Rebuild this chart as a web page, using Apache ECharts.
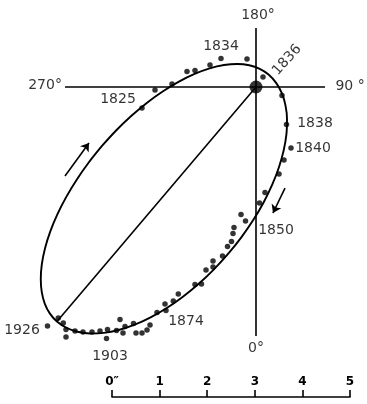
<!DOCTYPE html>
<html><head><meta charset="utf-8">
<script src="https://cdn.jsdelivr.net/npm/echarts@6/dist/echarts.min.js"></script>
<style>html,body{margin:0;padding:0;background:#fff}#c{width:367px;height:404px}</style>
</head><body><div id="c"></div>
<script>
// Apparent orbit of a visual binary; positions of companion relative to primary, in arcseconds (x right, y up)
const orbitTrace = [
  [-3.229,-1.236],[-2.928,-0.907],[-2.611,-0.603],[-2.283,-0.328],[-1.949,-0.088],[-1.615,0.114],
  [-1.287,0.275],[-0.971,0.391],[-0.671,0.460],[-0.393,0.482],[-0.142,0.456],[0.078,0.382],
  [0.263,0.262],[0.422,0.086],[0.542,-0.130],[0.618,-0.384],[0.650,-0.672],[0.638,-0.987],
  [0.581,-1.326],[0.481,-1.682],[0.340,-2.048],[0.159,-2.420],[-0.058,-2.790],[-0.308,-3.152],
  [-0.586,-3.500],[-0.887,-3.828],[-1.206,-4.130],[-1.539,-4.401],[-1.878,-4.637],[-2.219,-4.834],
  [-2.555,-4.987],[-2.881,-5.095],[-3.191,-5.155],[-3.480,-5.168],[-3.743,-5.131],[-3.975,-5.047],
  [-4.173,-4.916],[-4.320,-4.751],[-4.427,-4.545],[-4.491,-4.301],[-4.512,-4.023],[-4.490,-3.716],
  [-4.424,-3.386],[-4.316,-3.037],[-4.167,-2.676],[-3.980,-2.309],[-3.759,-1.943],[-3.507,-1.583],
  [-3.229,-1.236]
];
const observations = [
  [-2.390,-0.440],[-2.117,-0.063],[-1.761,0.063],[-1.447,0.325],[-1.279,0.346],[-0.964,0.461],
  [-0.734,0.597],[-0.189,0.587],[0.147,0.210],[0.545,-0.178],[0.639,-0.786],[0.734,-1.279],
  [0.587,-1.530],[0.482,-1.824],[0.189,-2.212],[0.073,-2.432],[-0.314,-2.673],[-0.220,-2.809],
  [-0.461,-2.945],[-0.482,-3.071],[-0.514,-3.239],[-0.597,-3.344],[-0.702,-3.543],[-0.901,-3.648],
  [-0.901,-3.774],[-1.048,-3.836],[-1.143,-4.130],[-1.279,-4.140],[-1.629,-4.340],[-1.734,-4.486],
  [-1.908,-4.549],[-1.887,-4.685],[-2.075,-4.727],[-2.222,-4.989],[-2.285,-5.094],[-2.390,-5.157],
  [-2.568,-4.958],[-2.516,-5.157],[-2.851,-4.874],[-2.788,-5.157],[-2.746,-5.021],[-2.924,-5.105],
  [-3.113,-5.084],[-3.134,-5.273],[-3.270,-5.115],[-3.438,-5.136],[-3.627,-5.136],[-3.794,-5.115],
  [-3.983,-5.084],[-3.983,-5.241],[-4.040,-4.947],[-4.145,-4.843],[-4.371,-5.010]
];
const primaryStar = [[0,0]];
const majorAxis = [[0,0],[-4.173,-4.916]];
const axis90_270 = [[-4.004,0],[1.447,0]];
const axis0_180 = [[0,1.237],[0,-5.220]];
const motionArrows = [
  [[-4.004,-1.866],[-3.501,-1.174]],
  [[0.608,-2.118],[0.356,-2.642]]
];
const annotations = [
  ['180°',0.042,1.509,0],['270°',-4.423,0.042,0],['90 °',1.971,0.021,0],['0°',0.000,-5.472,0],
  ['1825',-2.893,-0.252,0],['1834',-0.734,0.860,0],['1836',0.650,0.566,48],['1838',1.237,-0.755,0],
  ['1840',1.195,-1.279,0],['1850',0.419,-2.998,0],['1874',-1.468,-4.906,0],['1903',-3.061,-5.639,0],
  ['1926',-4.906,-5.094,0]
];
const scaleTicks = [0,1,2,3,4,5];
const scaleLabels = ['0″','1','2','3','4','5'];

const K = 47.7; // px per arcsec
const W = 367, H = 404, ox = 256, oy = 87;
const chart = echarts.init(document.getElementById('c'), null, {renderer:'canvas'});
const black = '#000';
const lineSer = (d, w, z) => ({type:'line', data:d, symbol:'none', silent:true, z:z,
  lineStyle:{color:black, width:w}, xAxisIndex:0, yAxisIndex:0});
chart.setOption({
  animation:false,
  backgroundColor:'#fff',
  grid:[{left:0, top:0, width:W, height:H},
        {left:112, width:238, bottom:7, height:1}],
  xAxis:[{type:'value', min:-ox/K, max:(W-ox)/K, show:false, gridIndex:0},
         {type:'value', gridIndex:1, min:0, max:5, interval:1,
          axisLine:{show:true, lineStyle:{color:black, width:1.6}},
          axisTick:{show:true, inside:true, length:7, lineStyle:{color:black, width:1.6}},
          splitLine:{show:false},
          axisLabel:{inside:true, margin:9, color:black, fontFamily:'DejaVu Sans', fontSize:12, fontWeight:'bold',
            formatter:v => scaleLabels[scaleTicks.indexOf(v)]}}],
  yAxis:[{type:'value', min:-(H-oy)/K, max:oy/K, show:false, gridIndex:0},
         {type:'value', gridIndex:1, show:false}],
  series:[
    lineSer(axis90_270, 1.6, 2),
    lineSer(axis0_180, 1.6, 2),
    lineSer(majorAxis, 1.6, 2),
    Object.assign(lineSer(orbitTrace, 1.9, 3), {smooth:0.3}),
    {type:'lines', coordinateSystem:'cartesian2d', xAxisIndex:0, yAxisIndex:0, z:3,
     symbol:['none','arrow'], symbolSize:[1,8],
     lineStyle:{color:black, width:1.6, opacity:1},
     data:motionArrows.map(c => ({coords:c}))},
    {type:'scatter', data:observations, symbol:'circle', symbolSize:5.5, z:4,
     itemStyle:{color:black}, xAxisIndex:0, yAxisIndex:0},
    {type:'scatter', data:primaryStar, symbol:'circle', symbolSize:13, z:5,
     itemStyle:{color:black}, xAxisIndex:0, yAxisIndex:0},
    {type:'scatter', symbolSize:0, z:6, xAxisIndex:0, yAxisIndex:0,
     data:annotations.map(a => ({name:a[0], value:[a[1],a[2]],
       label:{rotate:a[3]}})),
     label:{show:true, position:'inside', formatter:'{b}', color:black,
       fontFamily:'DejaVu Sans', fontSize:14, align:'center', verticalAlign:'middle'}}
  ]
});
</script></body></html>
